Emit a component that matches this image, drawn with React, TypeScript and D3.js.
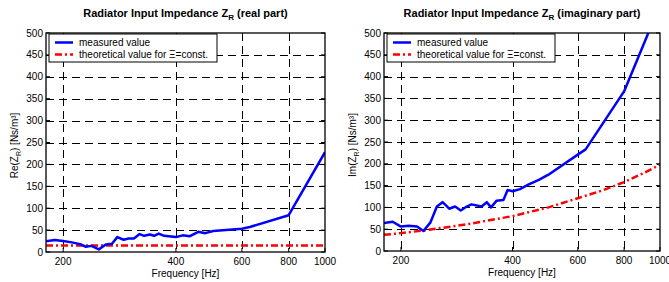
import React from "react";
import * as d3 from "d3";

// Real part, measured
const reFreq = [180, 190, 200, 211, 222, 230, 238, 249, 260, 270, 279, 290, 299, 309, 320, 329, 341, 350, 360, 372, 400, 417, 436, 459, 479, 503, 600, 630, 800, 1000];
const reMeasured = [24.5, 27.5, 25, 22, 18, 12, 14, 6, 17, 19, 34, 28, 31, 31, 41, 37, 40, 37, 42, 37, 34, 38, 36, 46, 43, 48, 53, 57, 84, 228];
// Real part, theoretical
const reTheoFreq = [180, 400, 1000];
const reTheory = [15, 15, 15];

// Imaginary part, measured
const imFreq = [180, 190, 200, 210, 221, 230, 240, 250, 259, 270, 280, 290, 301, 310, 330, 341, 350, 362, 378, 388, 400, 419, 441, 471, 500, 600, 630, 800, 930, 1000];
const imMeasured = [64, 67, 56, 58, 56, 46, 65, 102, 112, 97, 102, 93, 102, 107, 102, 112, 100, 115, 117, 140, 137, 142, 152, 163, 175, 221, 233, 366, 500, 565];
// Imaginary part, theoretical
const imTheoFreq = [180, 200, 230, 300, 400, 500, 600, 700, 800, 900, 1000];
const imTheory = [37, 41, 47, 61, 80, 100, 121, 139, 158, 178, 198];

const xTicks = [200, 400, 600, 800, 1000];
const yTicks = [0, 50, 100, 150, 200, 250, 300, 350, 400, 450, 500];

const FONT = "'Liberation Sans', Arial, sans-serif";
const BLUE = "#0000ff";
const RED = "#ff0000";

interface PanelProps {
  id: string;
  left: number;
  top: number;
  width: number;
  height: number;
  titleMain: string;
  titleTail: string;
  yPrefix: string;
  measFreq: number[];
  measVals: number[];
  theoFreq: number[];
  theoVals: number[];
}

function Panel(p: PanelProps) {
  const x = d3.scaleLog().domain([180, 1000]).range([0, p.width]);
  const y = d3.scaleLinear().domain([0, 500]).range([p.height, 0]);
  const line = d3
    .line<[number, number]>()
    .x((d) => x(d[0]))
    .y((d) => y(d[1]));
  const meas = line(p.measFreq.map((f, i) => [f, p.measVals[i]]) as [number, number][]) || "";
  const theo = line(p.theoFreq.map((f, i) => [f, p.theoVals[i]]) as [number, number][]) || "";

  return (
    <g transform={`translate(${p.left},${p.top})`} fontFamily={FONT}>
      <defs>
        <clipPath id={`clip-${p.id}`}>
          <rect x={0} y={0} width={p.width} height={p.height} />
        </clipPath>
      </defs>
      <rect x={0} y={0} width={p.width} height={p.height} fill="#fff" />

      {/* grid */}
      {xTicks.filter((t) => t < 1000).map((t) => (
        <line key={`gx${t}`} x1={Math.round(x(t)) + 0.5} x2={Math.round(x(t)) + 0.5} y1={0} y2={p.height}
          stroke="#000" strokeWidth={1} strokeDasharray="8,5" />
      ))}
      {yTicks.filter((t) => t > 0 && t < 500).map((t) => (
        <line key={`gy${t}`} x1={0} x2={p.width} y1={Math.round(y(t)) + 0.5} y2={Math.round(y(t)) + 0.5}
          stroke="#000" strokeWidth={1} strokeDasharray="8,5" />
      ))}

      {/* data */}
      <g clipPath={`url(#clip-${p.id})`}>
        <path d={theo} fill="none" stroke={RED} strokeWidth={2.5} strokeDasharray="7,3,2,3" />
        <path d={meas} fill="none" stroke={BLUE} strokeWidth={2.5} strokeLinejoin="round" />
      </g>

      {/* box */}
      <rect x={0} y={0} width={p.width} height={p.height} fill="none" stroke="#000" strokeWidth={1.3} />

      {/* ticks */}
      {yTicks.map((t) => (
        <g key={`ty${t}`}>
          <line x1={0} x2={4} y1={y(t)} y2={y(t)} stroke="#000" />
          <line x1={p.width - 4} x2={p.width} y1={y(t)} y2={y(t)} stroke="#000" />
          <text x={-3} y={y(t) + 3.5} fontSize={10} textAnchor="end" fill="#000">{t}</text>
        </g>
      ))}
      {xTicks.map((t) => (
        <g key={`tx${t}`}>
          <line x1={x(t)} x2={x(t)} y1={p.height} y2={p.height - 4} stroke="#000" />
          <text x={x(t)} y={p.height + 13} fontSize={10} textAnchor="middle" fill="#000">{t}</text>
        </g>
      ))}

      {/* labels */}
      <text x={p.width / 2} y={-16} fontSize={11} fontWeight="bold" textAnchor="middle" fill="#000">
        {p.titleMain}
        <tspan fontSize={8} dy={3}>R</tspan>
        <tspan dy={-3}>{p.titleTail}</tspan>
      </text>
      <text x={p.width / 2} y={p.height + 25} fontSize={10} textAnchor="middle" fill="#000">Frequency [Hz]</text>
      <text transform={`translate(${-28},${p.height / 2 + 3}) rotate(-90)`} fontSize={10} textAnchor="middle" fill="#000">
        {p.yPrefix}(Z<tspan fontSize={7} dy={2.5}>R</tspan><tspan dy={-2.5}>) [Ns/m³]</tspan>
      </text>

      {/* legend */}
      <g transform="translate(3,1)">
        <rect x={0} y={0} width={168} height={28} fill="#fff" stroke="#000" strokeWidth={1} />
        <line x1={6} x2={24} y1={8.5} y2={8.5} stroke={BLUE} strokeWidth={2.5} />
        <text x={30} y={12} fontSize={10} fill="#000">measured value</text>
        <line x1={6} x2={24} y1={20.5} y2={20.5} stroke={RED} strokeWidth={2.5} strokeDasharray="7,3,2,3" />
        <text x={30} y={24} fontSize={10} fill="#000">theoretical value for Ξ=const.</text>
      </g>
    </g>
  );
}

export default function App() {
  return (
    <svg width={669} height={282} style={{ position: "absolute", left: 0, top: 0, background: "#fff" }}>
      <rect width={669} height={282} fill="#fff" />
      <Panel id="re" left={46} top={33} width={279} height={219}
        titleMain="Radiator Input Impedance Z" titleTail=" (real part)" yPrefix="Re"
        measFreq={reFreq} measVals={reMeasured} theoFreq={reTheoFreq} theoVals={reTheory} />
      <Panel id="im" left={384} top={33} width={276} height={218}
        titleMain="Radiator Input Impedance Z" titleTail=" (imaginary part)" yPrefix="Im"
        measFreq={imFreq} measVals={imMeasured} theoFreq={imTheoFreq} theoVals={imTheory} />
    </svg>
  );
}
